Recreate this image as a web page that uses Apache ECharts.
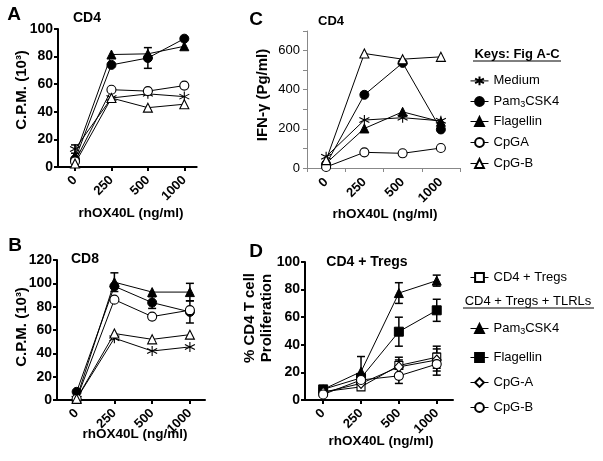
<!DOCTYPE html>
<html><head><meta charset="utf-8">
<script src="https://cdn.jsdelivr.net/npm/echarts@6/dist/echarts.min.js"></script>
<style>html,body{margin:0;padding:0;background:#fff}#c{width:603px;height:461px}</style>
</head><body><div id="c"></div>
<script>
// ---------- DATA ----------
const doses = ['0', '250', '500', '1000'];
const catIdx = [0, 1, 2, 3];

// Panel A: CD4, C.P.M. (10^3)
const aMedium = [13, 50, 53, 51];
const aPam    = [5.5, 74, 79, 93];
const aFlag   = [8, 81.5, 82, 87.5];
const aCpGA   = [4, 56, 55, 59];
const aCpGB   = [2.5, 50, 43, 45.5];
const aMediumErr = [3, 0, 0, 0];
const aPamErr    = [0, 0, 7.5, 0];

// Panel B: CD8, C.P.M. (10^3)
const bMedium = [1, 53, 42, 45.5];
const bPam    = [7, 97.5, 83.5, 75.5];
const bFlag   = [1.5, 101, 92.5, 92.5];
const bCpGA   = [1, 86, 71.5, 77];
const bCpGB   = [1, 57, 52, 56];
const bPamErr  = [0, 0, 5, 9.5];
const bFlagErr = [0, 8, 0, 7.5];

// Panel C: CD4, IFN-gamma (pg/ml)
const cMedium = [58, 245, 257, 241];
const cPam    = [20, 374, 537, 197];
const cFlag   = [24, 202, 287, 236];
const cCpGA   = [5, 80, 75, 102];
const cCpGB   = [40, 585, 556, 568];

// Panel D: CD4 + Tregs, % CD4 T cell proliferation
const dTregs = [6, 9.5, 25, 31];
const dPam   = [7.7, 20.5, 77.5, 86.5];
const dFlag  = [7.7, 16, 49.5, 65];
const dCpGA  = [5.5, 12, 24, 29];
const dCpGB  = [4, 14.5, 17.5, 26];
const dTregsErr = [1, 2, 6, 8];
const dPamErr   = [1, 11, 7.5, 4];
const dFlagErr  = [1, 3, 10.5, 8];
const dCpGAErr  = [1, 2, 5, 8];
const dCpGBErr  = [1, 2, 5.5, 8];

// ---------- STYLE ----------
const FONT = "'Liberation Sans', Arial, sans-serif";
const STAR = 'path://M10,0L10,20M1.34,5L18.66,15M1.34,15L18.66,5';
const filled = {color: '#000', borderColor: '#000', borderWidth: 1};
const open = {color: '#fff', borderColor: '#000', borderWidth: 1.1};
const starStyle = {color: 'none', borderColor: '#000', borderWidth: 1.1};

const symA = {
  'Medium':    {symbol: STAR, size: 10, style: starStyle},
  'Pam3CSK4':  {symbol: 'circle', size: 9, style: filled},
  'Flagellin': {symbol: 'triangle', size: 9, style: filled},
  'CpGA':      {symbol: 'circle', size: 9, style: open},
  'CpG-B':     {symbol: 'triangle', size: 9, style: open}
};
const symD = {
  'D:CD4 + Tregs': {symbol: 'rect', size: 8, style: open},
  'D:Pam3CSK4':    {symbol: 'triangle', size: 9, style: filled},
  'D:Flagellin':   {symbol: 'rect', size: 9, style: filled},
  'D:CpG-A':       {symbol: 'diamond', size: [9, 10], style: open},
  'D:CpG-B':       {symbol: 'circle', size: 9, style: open}
};

function lineSeries(name, sym, xi, yi, vals, isCat) {
  return {
    type: 'line', name: name, xAxisIndex: xi, yAxisIndex: yi,
    data: isCat ? vals.slice() : vals.map((v, i) => [catIdx[i], v]),
    symbol: sym.symbol, symbolSize: sym.size, showAllSymbol: true,
    itemStyle: sym.style, lineStyle: {color: '#000', width: 1},
    emphasis: {disabled: true}, z: 3, animation: false, silent: true
  };
}
function errSeries(xi, yi, vals, errs) {
  return {
    type: 'custom', xAxisIndex: xi, yAxisIndex: yi, z: 2, silent: true, animation: false,
    data: vals.map((v, i) => [catIdx[i], v, errs[i]]).filter(d => d[2] > 0),
    renderItem: function (params, api) {
      const x = api.value(0), y = api.value(1), e = api.value(2);
      const t = api.coord([x, y + e]), b = api.coord([x, y - e]);
      const st = {stroke: '#000', lineWidth: 1.5};
      return {type: 'group', children: [
        {type: 'line', shape: {x1: t[0], y1: t[1], x2: b[0], y2: b[1]}, style: st},
        {type: 'line', shape: {x1: t[0] - 4, y1: t[1], x2: t[0] + 4, y2: t[1]}, style: st},
        {type: 'line', shape: {x1: b[0] - 4, y1: b[1], x2: b[0] + 4, y2: b[1]}, style: st}
      ]};
    }
  };
}

function prismX(gi, min, max) {
  return {
    type: 'value', gridIndex: gi, min: min, max: max,
    axisLine: {show: true, onZero: false, lineStyle: {color: '#000', width: 2}},
    axisTick: {show: true, customValues: catIdx, length: 4, lineStyle: {color: '#000', width: 2}},
    axisLabel: {customValues: catIdx, formatter: v => doses[Math.round(v)], rotate: 45,
      fontFamily: FONT, fontWeight: 'bold', fontSize: 13, color: '#000', margin: 11},
    splitLine: {show: false}
  };
}
function prismY(gi, max) {
  return {
    type: 'value', gridIndex: gi, min: 0, max: max, interval: 20,
    axisLine: {show: true, onZero: false, lineStyle: {color: '#000', width: 2}},
    axisTick: {show: true, length: 4, lineStyle: {color: '#000', width: 2}},
    axisLabel: {fontFamily: FONT, fontWeight: 'bold', fontSize: 14, color: '#000', margin: 5},
    splitLine: {show: false}
  };
}

const series = [];
// Panel A (grid 0)
[['Medium', aMedium], ['Pam3CSK4', aPam], ['Flagellin', aFlag], ['CpGA', aCpGA], ['CpG-B', aCpGB]]
  .forEach(([n, v]) => series.push(lineSeries(n, symA[n], 0, 0, v, false)));
series.push(errSeries(0, 0, aMedium, aMediumErr));
series.push(errSeries(0, 0, aPam, aPamErr));
// Panel B (grid 1)
[['Medium', bMedium], ['Pam3CSK4', bPam], ['Flagellin', bFlag], ['CpGA', bCpGA], ['CpG-B', bCpGB]]
  .forEach(([n, v]) => series.push(lineSeries(n, symA[n], 1, 1, v, false)));
series.push(errSeries(1, 1, bPam, bPamErr));
series.push(errSeries(1, 1, bFlag, bFlagErr));
// Panel C (grid 2, category axis)
[['Medium', cMedium], ['Pam3CSK4', cPam], ['Flagellin', cFlag], ['CpGA', cCpGA], ['CpG-B', cCpGB]]
  .forEach(([n, v]) => series.push(lineSeries(n, symA[n], 2, 2, v, true)));
// Panel D (grid 3)
[['D:CD4 + Tregs', dTregs, dTregsErr], ['D:Pam3CSK4', dPam, dPamErr], ['D:Flagellin', dFlag, dFlagErr],
 ['D:CpG-A', dCpGA, dCpGAErr], ['D:CpG-B', dCpGB, dCpGBErr]]
  .forEach(([n, v, e]) => {
    series.push(lineSeries(n, symD[n], 3, 3, v, false));
    series.push(errSeries(3, 3, v, e));
  });

// Legends (one per row)
const legendRows = [
  ['Medium', 80], ['Pam3CSK4', 101], ['Flagellin', 121], ['CpGA', 142], ['CpG-B', 163],
  ['D:CD4 + Tregs', 277], ['D:Pam3CSK4', 328], ['D:Flagellin', 357], ['D:CpG-A', 382], ['D:CpG-B', 407]
];
const legends = legendRows.map(([n, cy]) => ({
  data: [n], left: 470, top: cy - 6, padding: 0, itemWidth: 18, itemHeight: 11,
  selectedMode: false, orient: 'horizontal',
  lineStyle: {width: 1, color: '#000'},
  formatter: function (name) {
    const s = name.replace('D:', '');
    if (s === 'Pam3CSK4') return '{n|Pam}{s|3}{n|CSK4}';
    return '{n|' + s + '}';
  },
  textStyle: {fontFamily: FONT, fontSize: 13, color: '#000',
    rich: {n: {fontFamily: FONT, fontSize: 13, color: '#000'},
           s: {fontFamily: FONT, fontSize: 9, color: '#000', padding: [7, 0, 0, 0]}}}
}));

function txt(text, x, y, size, bold, opts) {
  return Object.assign({
    type: 'text', x: x, y: y, silent: true,
    style: {text: text, fontFamily: FONT, fontSize: size, fontWeight: bold ? 'bold' : 'normal',
      fill: '#000', textAlign: 'center', textVerticalAlign: 'middle'}
  }, opts || {});
}
const graphics = [
  txt('A', 14, 15, 19, true), txt('B', 15, 246, 19, true),
  txt('C', 256, 20, 19, true), txt('D', 256, 252, 19, true),
  txt('CD4', 87, 18, 14, true), txt('CD8', 85, 259, 14, true),
  txt('CD4', 331, 21, 13, true), txt('CD4 + Tregs', 367, 262, 14, true),
  txt('C.P.M. (10³)', 22, 90, 15, true, {rotation: Math.PI / 2}),
  txt('C.P.M. (10³)', 22, 327, 15, true, {rotation: Math.PI / 2}),
  txt('IFN-γ (Pg/ml)', 263, 95, 15, true, {rotation: Math.PI / 2}),
  {type: 'text', x: 258, y: 318, rotation: Math.PI / 2, silent: true,
   style: {text: '% CD4 T cell\nProliferation', fontFamily: FONT, fontSize: 15, fontWeight: 'bold',
     fill: '#000', textAlign: 'center', textVerticalAlign: 'middle', lineHeight: 17}},
  txt('rhOX40L (ng/ml)', 131, 213, 13.5, true),
  txt('rhOX40L (ng/ml)', 385, 214, 13.5, true),
  txt('rhOX40L (ng/ml)', 135, 434, 13.5, true),
  txt('rhOX40L (ng/ml)', 381, 441, 13.5, true),
  txt('Keys: Fig A-C', 517, 54, 13, true),
  {type: 'line', silent: true, shape: {x1: 473, y1: 61, x2: 561, y2: 61}, style: {stroke: '#000', lineWidth: 1}},
  txt('CD4 + Tregs + TLRLs', 528, 301, 13, false),
  {type: 'line', silent: true, shape: {x1: 463, y1: 308, x2: 594, y2: 308}, style: {stroke: '#000', lineWidth: 1}}
];

const option = {
  animation: false,
  backgroundColor: '#fff',
  grid: [
    {left: 58, top: 29, width: 138.7, height: 138},
    {left: 57, top: 260, width: 148, height: 140},
    {left: 307, top: 31, width: 153, height: 137},
    {left: 305, top: 262, width: 148, height: 138}
  ],
  xAxis: [
    prismX(0, -0.467, 3.34),
    prismX(1, -0.52, 3.4),
    {type: 'category', gridIndex: 2, data: doses, boundaryGap: true,
     axisLine: {show: true, onZero: false, lineStyle: {color: '#888', width: 1}},
     axisTick: {show: true, length: 4, lineStyle: {color: '#888'}},
     axisLabel: {rotate: 45, fontFamily: FONT, fontWeight: 'bold', fontSize: 13, color: '#000', margin: 12},
     splitLine: {show: false}},
    prismX(3, -0.48, 3.43)
  ],
  yAxis: [
    prismY(0, 100),
    prismY(1, 120),
    {type: 'value', gridIndex: 2, min: 0, max: 700, interval: 100,
     axisLine: {show: true, onZero: false, lineStyle: {color: '#888', width: 1}},
     axisTick: {show: true, length: 4, lineStyle: {color: '#888'}},
     axisLabel: {formatter: v => (v % 200 === 0 ? String(v) : ''), fontFamily: FONT, fontSize: 13, color: '#000', margin: 7},
     splitLine: {show: false}},
    prismY(3, 100)
  ],
  legend: legends,
  graphic: graphics,
  series: series
};
const chart = echarts.init(document.getElementById('c'), null, {renderer: 'canvas'});
chart.setOption(option);
</script></body></html>
